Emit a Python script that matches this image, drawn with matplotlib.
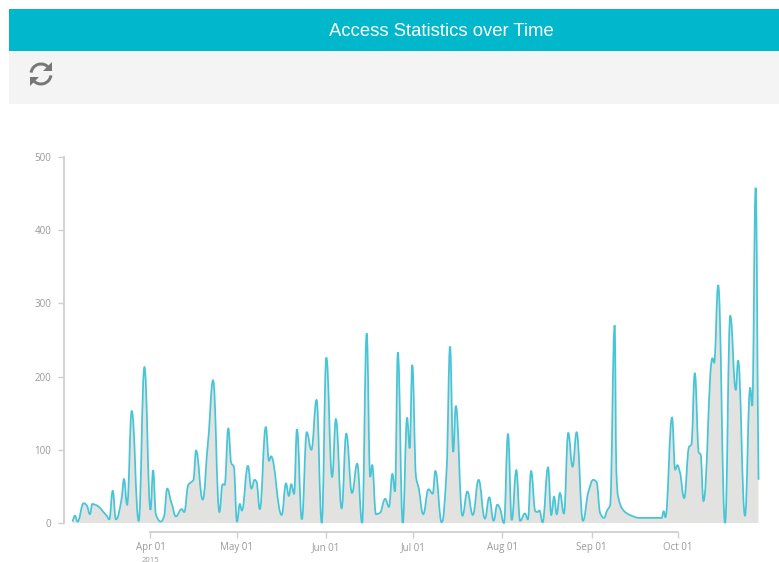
import numpy as np
from matplotlib import pyplot as plt
from matplotlib.path import Path
from matplotlib.patches import PathPatch, Rectangle, Wedge, Polygon

#days counted from Apr 01 2015, and the value on that day
days = [-27.1, -26.2, -25.3, -23.2, -22.1, -21, -20.2, -19.2, -15.2, -14.3, -13.1, -12, -10, -9.2, -8.1,
        -6.5, -4.1, -2.1, 0, 0.9, 1.9, 3.6, 4.7, 5.8, 7.3, 8.8, 10.8, 11.7, 13.1, 14.9, 15.8, 18.1,
        20, 21.7, 23.9, 25, 25.7, 27, 28, 28.9, 30, 31, 31.7, 33.8, 35, 36.1, 36.8, 37.9, 40, 41.1, 41.8,
        45.5, 47, 48, 48.8, 49.8, 50.8, 52.5, 54.2, 55.8, 57.6, 59.4, 61, 63, 64.3, 66.3, 67.9, 69.9, 71.7,
        73.4, 75, 76.2, 76.9, 78.2, 79.6, 81.4, 82.7, 83.9, 84.8, 85.8, 87.5, 89, 89.9, 90.8, 92.1,
        92.9, 94.6, 96.4, 97.9, 98.8, 101, 102.7, 103.9, 105, 105.9, 108.2, 109.9, 111.8, 113.8, 116, 117.5,
        119, 120.3, 121.2, 122.6, 124, 125.3, 126.9, 128.2, 129.9, 130.9, 132, 133.5, 134.2, 134.9, 136,
        137.9, 139, 140, 140.9, 142, 143.4, 144.9, 146.4, 147.8, 150, 151.9, 153.6, 154.7, 156, 157.3, 158.5,
        159.4, 161, 161.6, 162.2, 163.9, 166.3, 169.8, 177.3, 178, 178.6, 180.9, 182, 182.8, 183.6, 185.1, 186.8,
        187.6, 188.8, 190.2, 190.8, 191.8, 194.9, 195.5, 196.9, 199.3, 201.1, 203, 203.8, 206.2, 208,
        208.7, 209.9, 210.9]
hits = [2, 10, 2, 27, 24, 12, 26, 25, 10, 5, 44, 5, 34, 60, 25,
        153, 3, 213, 18, 72, 11, 2, 9, 47, 27, 9, 19, 15, 52, 59, 99, 32,
        113, 195, 15, 53, 52, 129, 82, 77, 2, 26, 17, 78, 47, 59, 56, 19, 131, 85, 91,
        11, 54, 37, 53, 40, 128, 5, 124, 100, 168, 0, 226, 63, 142, 20, 122, 41, 81,
        0, 259, 63, 79, 12, 14, 33, 22, 67, 43, 233, 0, 144, 102, 216, 63,
        50, 12, 46, 40, 71, 1, 72, 241, 97, 160, 10, 43, 11, 59, 6, 35,
        3, 25, 20, 0, 122, 4, 72, 3, 13, 5, 71, 16, 15, 17, 1,
        76, 11, 36, 12, 41, 13, 123, 77, 124, 3, 43, 59, 56, 13, 7, 18,
        24, 270, 70, 36, 18, 11, 7, 7, 16, 8, 144, 73, 79, 70, 34, 104,
        107, 205, 96, 94, 30, 225, 219, 325, 0, 283, 182, 222, 10, 185,
        160, 458, 59]

month_days = [0, 30, 61, 91, 122, 153, 183]
month_labels = ["Apr 01", "May 01", "Jun 01", "Jul 01", "Aug 01", "Sep 01", "Oct 01"]
value_ticks = [0, 100, 200, 300, 400, 500]

TEAL = "#00b7cc"
LINE = "#46c5d7"
AREA = "#e2e2e0"
AXIS = "#cfcfcf"
TEXT = "#9a9a9a"

plt.rcParams["font.family"] = ["Open Sans", "DejaVu Sans"]


#smooth path through the points, flat at every peak and dip
def smooth_path(x, y):
    x = np.array(x, dtype=float)
    y = np.array(y, dtype=float)
    dx = np.diff(x)
    s = np.diff(y) / dx
    m = np.zeros(len(x))
    for i in range(1, len(x) - 1):
        if s[i-1] * s[i] > 0:
            p = (s[i-1] * dx[i] + s[i] * dx[i-1]) / (dx[i-1] + dx[i])
            m[i] = np.sign(s[i]) * min(2 * abs(s[i-1]), 2 * abs(s[i]), abs(p))
    m[0] = s[0]
    m[-1] = s[-1]
    verts = [(x[0], y[0])]
    codes = [Path.MOVETO]
    for i in range(len(dx)):
        h = dx[i] / 3
        w = dx[i] * 0.42
        verts += [(x[i] + w, y[i] + m[i] * h), (x[i+1] - w, y[i+1] - m[i+1] * h), (x[i+1], y[i+1])]
        codes += [Path.CURVE4] * 3
    return verts, codes


fig = plt.figure(figsize=(7.79, 5.62), dpi=100)

#page furniture in pixel coordinates
bg = fig.add_axes([0, 0, 1, 1])
bg.set_xlim(0, 779)
bg.set_ylim(0, 562)
bg.axis("off")
bg.add_patch(Rectangle((9, 562 - 51), 770, 42, color=TEAL, lw=0))
bg.add_patch(Rectangle((9, 562 - 104), 770, 53, color="#f4f4f4", lw=0))
bg.text(441, 562 - 31, "Access Statistics over Time", color="white", fontsize=13.3,
        family=["Liberation Sans", "DejaVu Sans"], ha="center", va="center")

#refresh icon
icon = "#777777"
bg.add_patch(Wedge((41, 562 - 74), 11.5, 38, 172, width=3, color=icon, lw=0))
bg.add_patch(Wedge((41, 562 - 74), 11.5, 218, 352, width=3, color=icon, lw=0))
bg.add_patch(Polygon([(52, 562 - 62), (52, 562 - 71), (43, 562 - 71)], color=icon, lw=0))
bg.add_patch(Polygon([(30, 562 - 86), (30, 562 - 77), (39, 562 - 77)], color=icon, lw=0))
bg.text(150, 562 - 560.5, "2015", color=TEXT, fontsize=5.5, ha="center", va="center")

ax = fig.add_axes([64 / 779, (562 - 523) / 562, (779 - 64) / 779, (523 - 157) / 562])
ax.patch.set_alpha(0)
ax.set_xlim(-30, 218)
ax.set_ylim(0, 500)

verts, codes = smooth_path(days, hits)
fill_verts = verts + [(days[-1], 0), (days[0], 0), verts[0]]
fill_codes = codes + [Path.LINETO, Path.LINETO, Path.CLOSEPOLY]
ax.add_patch(PathPatch(Path(fill_verts, fill_codes), facecolor=AREA, edgecolor="none"))
ax.add_patch(PathPatch(Path(verts, codes), facecolor="none", edgecolor=LINE, lw=1.25, clip_on=False))

ax.spines["top"].set_visible(False)
ax.spines["right"].set_visible(False)
ax.spines["left"].set_color(AXIS)
ax.spines["bottom"].set_color(AXIS)
ax.spines["left"].set_linewidth(1.3)
ax.spines["bottom"].set_linewidth(1.3)
ax.spines["left"].set_bounds(0, 500)
ax.spines["bottom"].set_bounds(month_days[0], month_days[-1])
ax.spines["bottom"].set_position(("outward", 6.5))

ax.set_xticks(month_days)
ax.set_xticklabels(month_labels)
ax.set_yticks(value_ticks)
ax.tick_params(axis="x", length=4.5, width=1, color=AXIS, labelcolor=TEXT, labelsize=7, pad=3)
ax.tick_params(axis="y", length=4.5, width=1, color=AXIS, labelcolor=TEXT, labelsize=7, pad=4.5)

plt.savefig("out.png", dpi=100)
